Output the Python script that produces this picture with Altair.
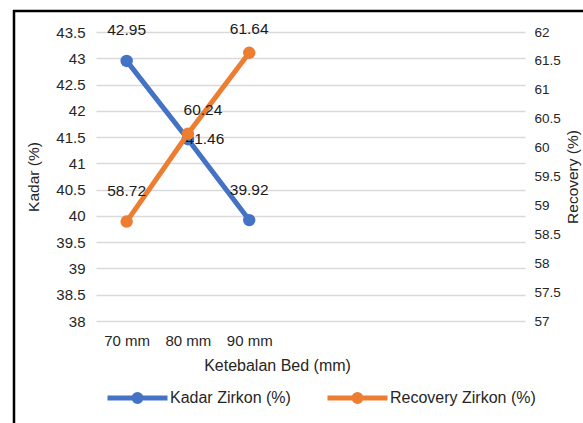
import altair as alt
import pandas as pd

# Bed thickness categories and measured values
categories = ["70 mm", "80 mm", "90 mm"]
kadar = [42.95, 41.46, 39.92]        # Kadar Zirkon (%)
recovery = [58.72, 60.24, 61.64]     # Recovery Zirkon (%)
series_names = ["Kadar Zirkon (%)", "Recovery Zirkon (%)"]
colors = ["#4472C4", "#ED7D31"]

left_ticks = [38 + 0.5 * i for i in range(12)]
right_ticks = [57 + 0.5 * i for i in range(11)]

df = pd.DataFrame(
    {
        "idx": list(range(len(categories))) * 2,
        "series": [series_names[0]] * 3 + [series_names[1]] * 3,
        "value": kadar + recovery,
    }
)

W, H = 429, 289
FONT = "Liberation Sans"
label_expr = "[" + ",".join(f"'{c}'" for c in categories) + "][datum.value]"

color_scale = alt.Scale(domain=series_names, range=colors)
color = alt.Color(
    "series:N",
    scale=color_scale,
    legend=alt.Legend(
        title=None,
        orient="none",
        direction="horizontal",
        legendX=9,
        legendY=333,
        # line with a round marker: concentric stroked circles fill the dot
        symbolType="M-1,0L1,0M-0.04,0A0.04,0.04 0 1,1 0.04,0A0.04,0.04 0 1,1 -0.04,0"
        "M-0.117,0A0.117,0.117 0 1,1 0.117,0A0.117,0.117 0 1,1 -0.117,0",
        symbolSize=60 * 60,
        symbolStrokeWidth=5,
        symbolOpacity=1,
        labelFontSize=16,
        labelFont=FONT,
        labelColor="#262626",
        labelOffset=0,
        columnPadding=26,
        padding=0,
    ),
)

x_enc = alt.X(
    "idx:Q",
    scale=alt.Scale(domain=[-0.5, 6.5], nice=False, zero=False),
    axis=alt.Axis(
        values=list(range(len(categories))),
        labelExpr=label_expr,
        title="Ketebalan Bed (mm)",
        titleX=181,
        titleY=44,
        titleBaseline="middle",
        titleAlign="center",
        titleFontSize=16,
        labelFontSize=15,
        labelPadding=12,
        grid=False,
        ticks=False,
        domain=False,
    ),
)

base = alt.Chart(df)


def series_layer(name, domain, ticks, orient, title, title_x, offsets, show_grid, label_size, pad):
    sub = base.transform_filter(alt.datum.series == name)
    y_enc = alt.Y(
        "value:Q",
        scale=alt.Scale(domain=domain, nice=False, zero=False),
        axis=alt.Axis(
            orient=orient,
            values=ticks,
            format="~g",
            title=title,
            titleX=title_x,
            titleY=H / 2,
            titleAngle=270,
            titleAlign="center",
            titleBaseline="middle",
            titleFontSize=15.5,
            grid=show_grid,
            gridColor="#D9D9D9",
            gridWidth=1.3,
            ticks=False,
            domain=False,
            labelPadding=pad,
            labelFontSize=label_size,
        ),
    )
    line = sub.mark_line(strokeWidth=5).encode(x=x_enc, y=y_enc, color=color)
    pts = sub.mark_point(filled=True, size=155, opacity=1).encode(
        x=x_enc, y=y_enc, color=alt.Color("series:N", scale=color_scale, legend=None)
    )
    texts = []
    for i, (dx, dy) in enumerate(offsets):
        texts.append(
            sub.transform_filter(alt.datum.idx == i)
            .mark_text(dx=dx, dy=dy, fontSize=15.5, font=FONT, color="#1a1a1a")
            .encode(x=x_enc, y=y_enc, text=alt.Text("value:Q", format=".2f"))
        )
    return alt.layer(line, pts, *texts)


kadar_layer = series_layer(
    series_names[0], [38, 43.5], left_ticks, "left", "Kadar (%)", -63,
    [(0, -31), (17, 0), (0, -30)], True, 15, 11,
)
recovery_layer = series_layer(
    series_names[1], [57, 62], right_ticks, "right", "Recovery (%)", 47,
    [(0, -31), (15, -24), (0, -24)], False, 13.5, 9,
)

# chart border on the left and top edges
frame = alt.Chart(alt.Data(values=[{"k": 0}]))
border_left = frame.mark_rule(color="#000000", strokeWidth=2.5).encode(
    x=alt.value(-82), y=alt.value(-22), y2=alt.value(400)
)
border_top = frame.mark_rule(color="#000000", strokeWidth=2.5).encode(
    x=alt.value(-83), x2=alt.value(500), y=alt.value(-21)
)

chart = (
    alt.layer(kadar_layer, recovery_layer, border_left, border_top)
    .resolve_scale(y="independent")
    .properties(
        width=W,
        height=H,
        autosize=alt.AutoSizeParams(type="none"),
        padding={"left": 96, "top": 32, "right": 58, "bottom": 102},
        background="#ffffff",
    )
    .configure_view(stroke=None)
    .configure_axis(
        labelFont=FONT,
        titleFont=FONT,
        labelColor="#262626",
        titleColor="#262626",
        titleFontWeight="normal",
    )
)

chart.save("out.html", embed_options={"renderer": "svg", "actions": False})
